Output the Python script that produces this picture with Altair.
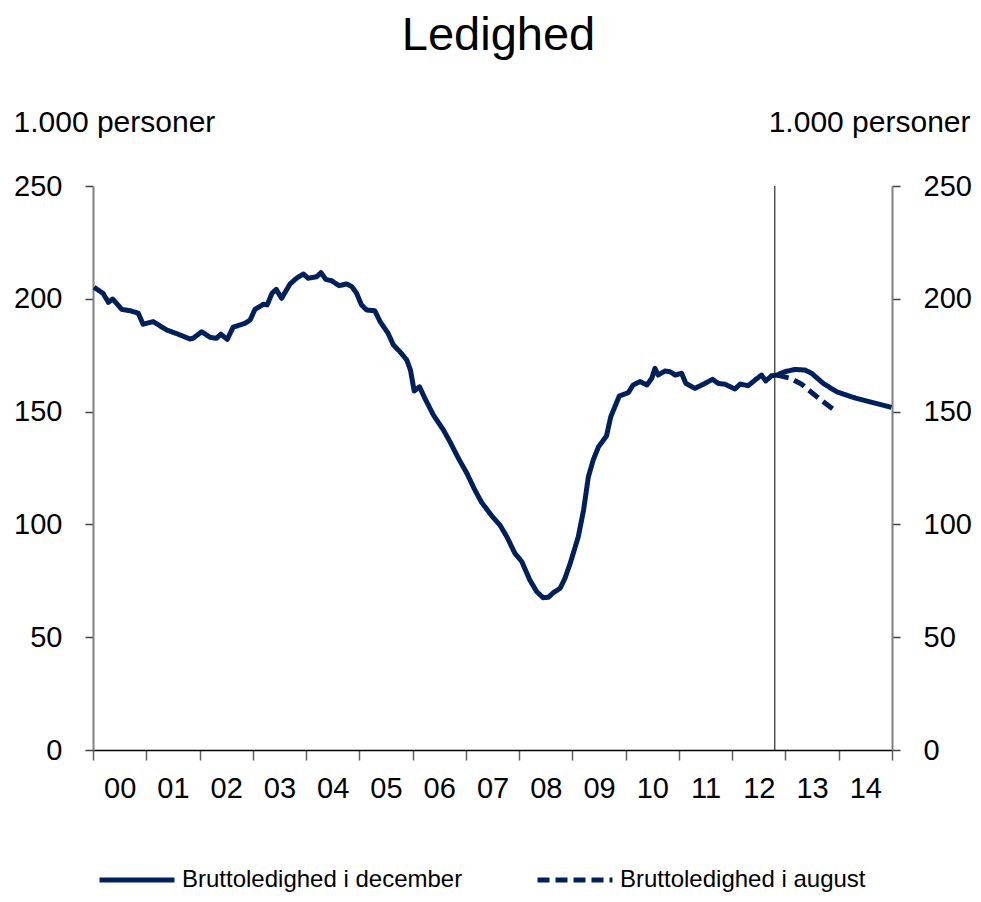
import json
import altair as alt
import pandas as pd

# ---- data ----
december_years = [
    2000.02, 2000.19, 2000.29, 2000.37, 2000.54, 2000.70, 2000.85, 2000.94,
    2001.13, 2001.38, 2001.60, 2001.82, 2001.88, 2002.04, 2002.20, 2002.32,
    2002.40, 2002.52, 2002.63, 2002.85, 2002.95, 2003.04, 2003.20, 2003.27,
    2003.36, 2003.44, 2003.54, 2003.70, 2003.82, 2003.95, 2004.04, 2004.20,
    2004.28, 2004.37, 2004.48, 2004.62, 2004.76, 2004.86, 2004.95, 2005.04,
    2005.14, 2005.29, 2005.39, 2005.54, 2005.64, 2005.76, 2005.89, 2005.96,
    2006.03, 2006.13, 2006.23, 2006.39, 2006.58, 2006.70, 2006.86, 2007.02,
    2007.17, 2007.30, 2007.49, 2007.64, 2007.77, 2007.92, 2008.05, 2008.20,
    2008.33, 2008.45, 2008.55, 2008.64, 2008.77, 2008.86, 2008.96, 2009.11,
    2009.21, 2009.30, 2009.39, 2009.49, 2009.64, 2009.72, 2009.88, 2010.05,
    2010.14, 2010.27, 2010.40, 2010.49, 2010.55, 2010.61, 2010.74, 2010.83,
    2010.93, 2011.05, 2011.13, 2011.30, 2011.49, 2011.63, 2011.74, 2011.87,
    2012.05, 2012.15, 2012.30, 2012.43, 2012.55, 2012.63, 2012.74, 2012.84,
    2012.99, 2013.18, 2013.37, 2013.49, 2013.71, 2013.96, 2014.27, 2014.59,
    2014.99,
]
december_values = [
    205.1, 202.4, 198.4, 199.9, 195.3, 194.7, 193.6, 188.7,
    189.9, 186.2, 184.3, 182.2, 182.5, 185.4, 182.9, 182.5,
    184.3, 182.0, 187.4, 189.1, 190.6, 195.3, 197.6, 197.3,
    202.4, 204.2, 200.2, 206.6, 209.1, 211.0, 209.1, 209.8,
    211.6, 208.6, 208.0, 205.8, 206.6, 205.4, 202.4, 197.3,
    195.0, 194.7, 189.9, 184.7, 179.5, 176.6, 172.9, 168.4,
    159.1, 161.0, 155.9, 148.5, 141.8, 136.7, 129.3, 122.6,
    115.2, 109.6, 103.7, 99.7, 94.5, 87.2, 83.5, 75.4,
    70.2, 67.5, 67.7, 69.7, 71.7, 76.1, 82.8, 94.5,
    106.4, 121.1, 128.5, 134.4, 139.2, 147.7, 156.9, 158.4,
    161.8, 163.3, 161.8, 164.8, 169.2, 166.2, 168.0, 167.7,
    166.2, 167.0, 162.5, 160.3, 162.5, 164.3, 162.5, 162.1,
    160.0, 162.2, 161.5, 164.0, 166.2, 163.6, 165.9, 166.2,
    167.7, 168.7, 168.4, 167.0, 162.5, 158.8, 156.3, 154.3,
    151.9,
]
august_years = [2012.84, 2013.09, 2013.30, 2013.43, 2013.59, 2013.71, 2013.90]
august_values = [166.2, 164.8, 162.2, 159.6, 156.6, 154.4, 151.0]

series_names = ["Bruttoledighed i december", "Bruttoledighed i august"]
year_labels = ["00", "01", "02", "03", "04", "05", "06", "07",
               "08", "09", "10", "11", "12", "13", "14"]
marker_years = [2012.8]
y_ticks = [0, 50, 100, 150, 200, 250]

# ---- tables ----
df = pd.concat([
    pd.DataFrame({"year": december_years, "value": december_values,
                  "series": series_names[0]}),
    pd.DataFrame({"year": august_years, "value": august_values,
                  "series": series_names[1]}),
], ignore_index=True)
marker_df = pd.DataFrame({"year": marker_years})

NAVY = "#00205B"
FONT = "Liberation Sans"
first_year = 2000
tick_vals = [first_year + i for i in range(len(year_labels) + 1)]
label_vals = [first_year + i + 0.5 for i in range(len(year_labels))]

label_expr = (
    f"(datum.value % 1 == 0.5) ? {json.dumps(year_labels)}"
    f"[floor(datum.value) - {first_year}] : ''"
)

x_enc = alt.X(
    "year:Q",
    scale=alt.Scale(domain=[first_year, first_year + len(year_labels)],
                    nice=False, zero=False),
    axis=alt.Axis(
        values=sorted(tick_vals + label_vals),
        labelExpr=label_expr,
        title=None,
        grid=False,
        domainColor="black",
        domainWidth=1.5,
        tickColor="#606060",
        tickWidth=1.5,
        tickSize=10,
        tickOpacity={"condition": {"test": "datum.value % 1 == 0", "value": 1},
                     "value": 0},
        labelFontSize=29,
        labelBaseline="middle",
        labelPadding=28,
        labelFlush=False,
        labelOverlap=False,
    ),
)

y_scale = alt.Scale(domain=[0, 250], nice=False)


def y_axis(orient, title_x, align):
    return alt.Axis(
        orient=orient,
        values=y_ticks,
        grid=False,
        title="1.000 personer",
        titleAngle=0,
        titleX=title_x,
        titleY=-64,
        titleAlign=align,
        titleBaseline="middle",
        titleFontSize=30,
        titleFontWeight="normal",
        titleColor="black",
        titleFont=FONT,
        domainColor="#808080",
        domainWidth=2,
        tickColor="#404040",
        tickWidth=1.5,
        tickSize=8,
        labelFontSize=29,
        labelPadding=23,
        labelColor="black",
    )


legend = alt.Legend(
    title=None,
    orient="none",
    legendX=4,
    legendY=654,
    direction="horizontal",
    symbolType="stroke",
    symbolSize=5625,
    symbolStrokeWidth=5,
    labelFontSize=24,
    labelFont=FONT,
    labelColor="black",
    labelLimit=600,
    labelOffset=5,
    columnPadding=64,
)

color_enc = alt.Color("series:N",
                      scale=alt.Scale(domain=series_names, range=[NAVY, NAVY]),
                      legend=legend)
dash_enc = alt.StrokeDash("series:N",
                          scale=alt.Scale(domain=series_names,
                                          range=[[1, 0], [12, 6]]),
                          legend=legend)

base = alt.Chart(df)

line_dec = base.transform_filter(
    alt.datum.series == series_names[0]
).mark_line(strokeWidth=5, strokeJoin="round").encode(
    x=x_enc,
    y=alt.Y("value:Q", scale=y_scale, axis=y_axis("left", -80, "left")),
    color=color_enc,
    strokeDash=dash_enc,
)

line_aug = base.transform_filter(
    alt.datum.series == series_names[1]
).mark_line(strokeWidth=5).encode(
    x=x_enc,
    y=alt.Y("value:Q", scale=y_scale, axis=y_axis("right", 78, "right")),
    color=color_enc,
    strokeDash=dash_enc,
)

rule = alt.Chart(marker_df).mark_rule(color="black", strokeWidth=1).encode(
    x=x_enc,
)

chart = alt.layer(rule, line_dec, line_aug).resolve_scale(
    y="shared"
).resolve_axis(
    y="independent"
).properties(
    width=799,
    height=564,
    autosize=alt.AutoSizeParams(type="none"),
    padding={"left": 85, "top": 178, "right": 81, "bottom": 144},
    title=alt.TitleParams(
        "Ledighed", fontSize=47, fontWeight="normal", font=FONT,
        color="black", anchor="middle", offset=47, dx=6,
    ),
).configure(
    font=FONT,
).configure_view(
    stroke="transparent",
).configure_axis(
    labelFont=FONT,
    labelColor="black",
)

chart.save("out.html", embed_options={"renderer": "svg", "actions": False})
